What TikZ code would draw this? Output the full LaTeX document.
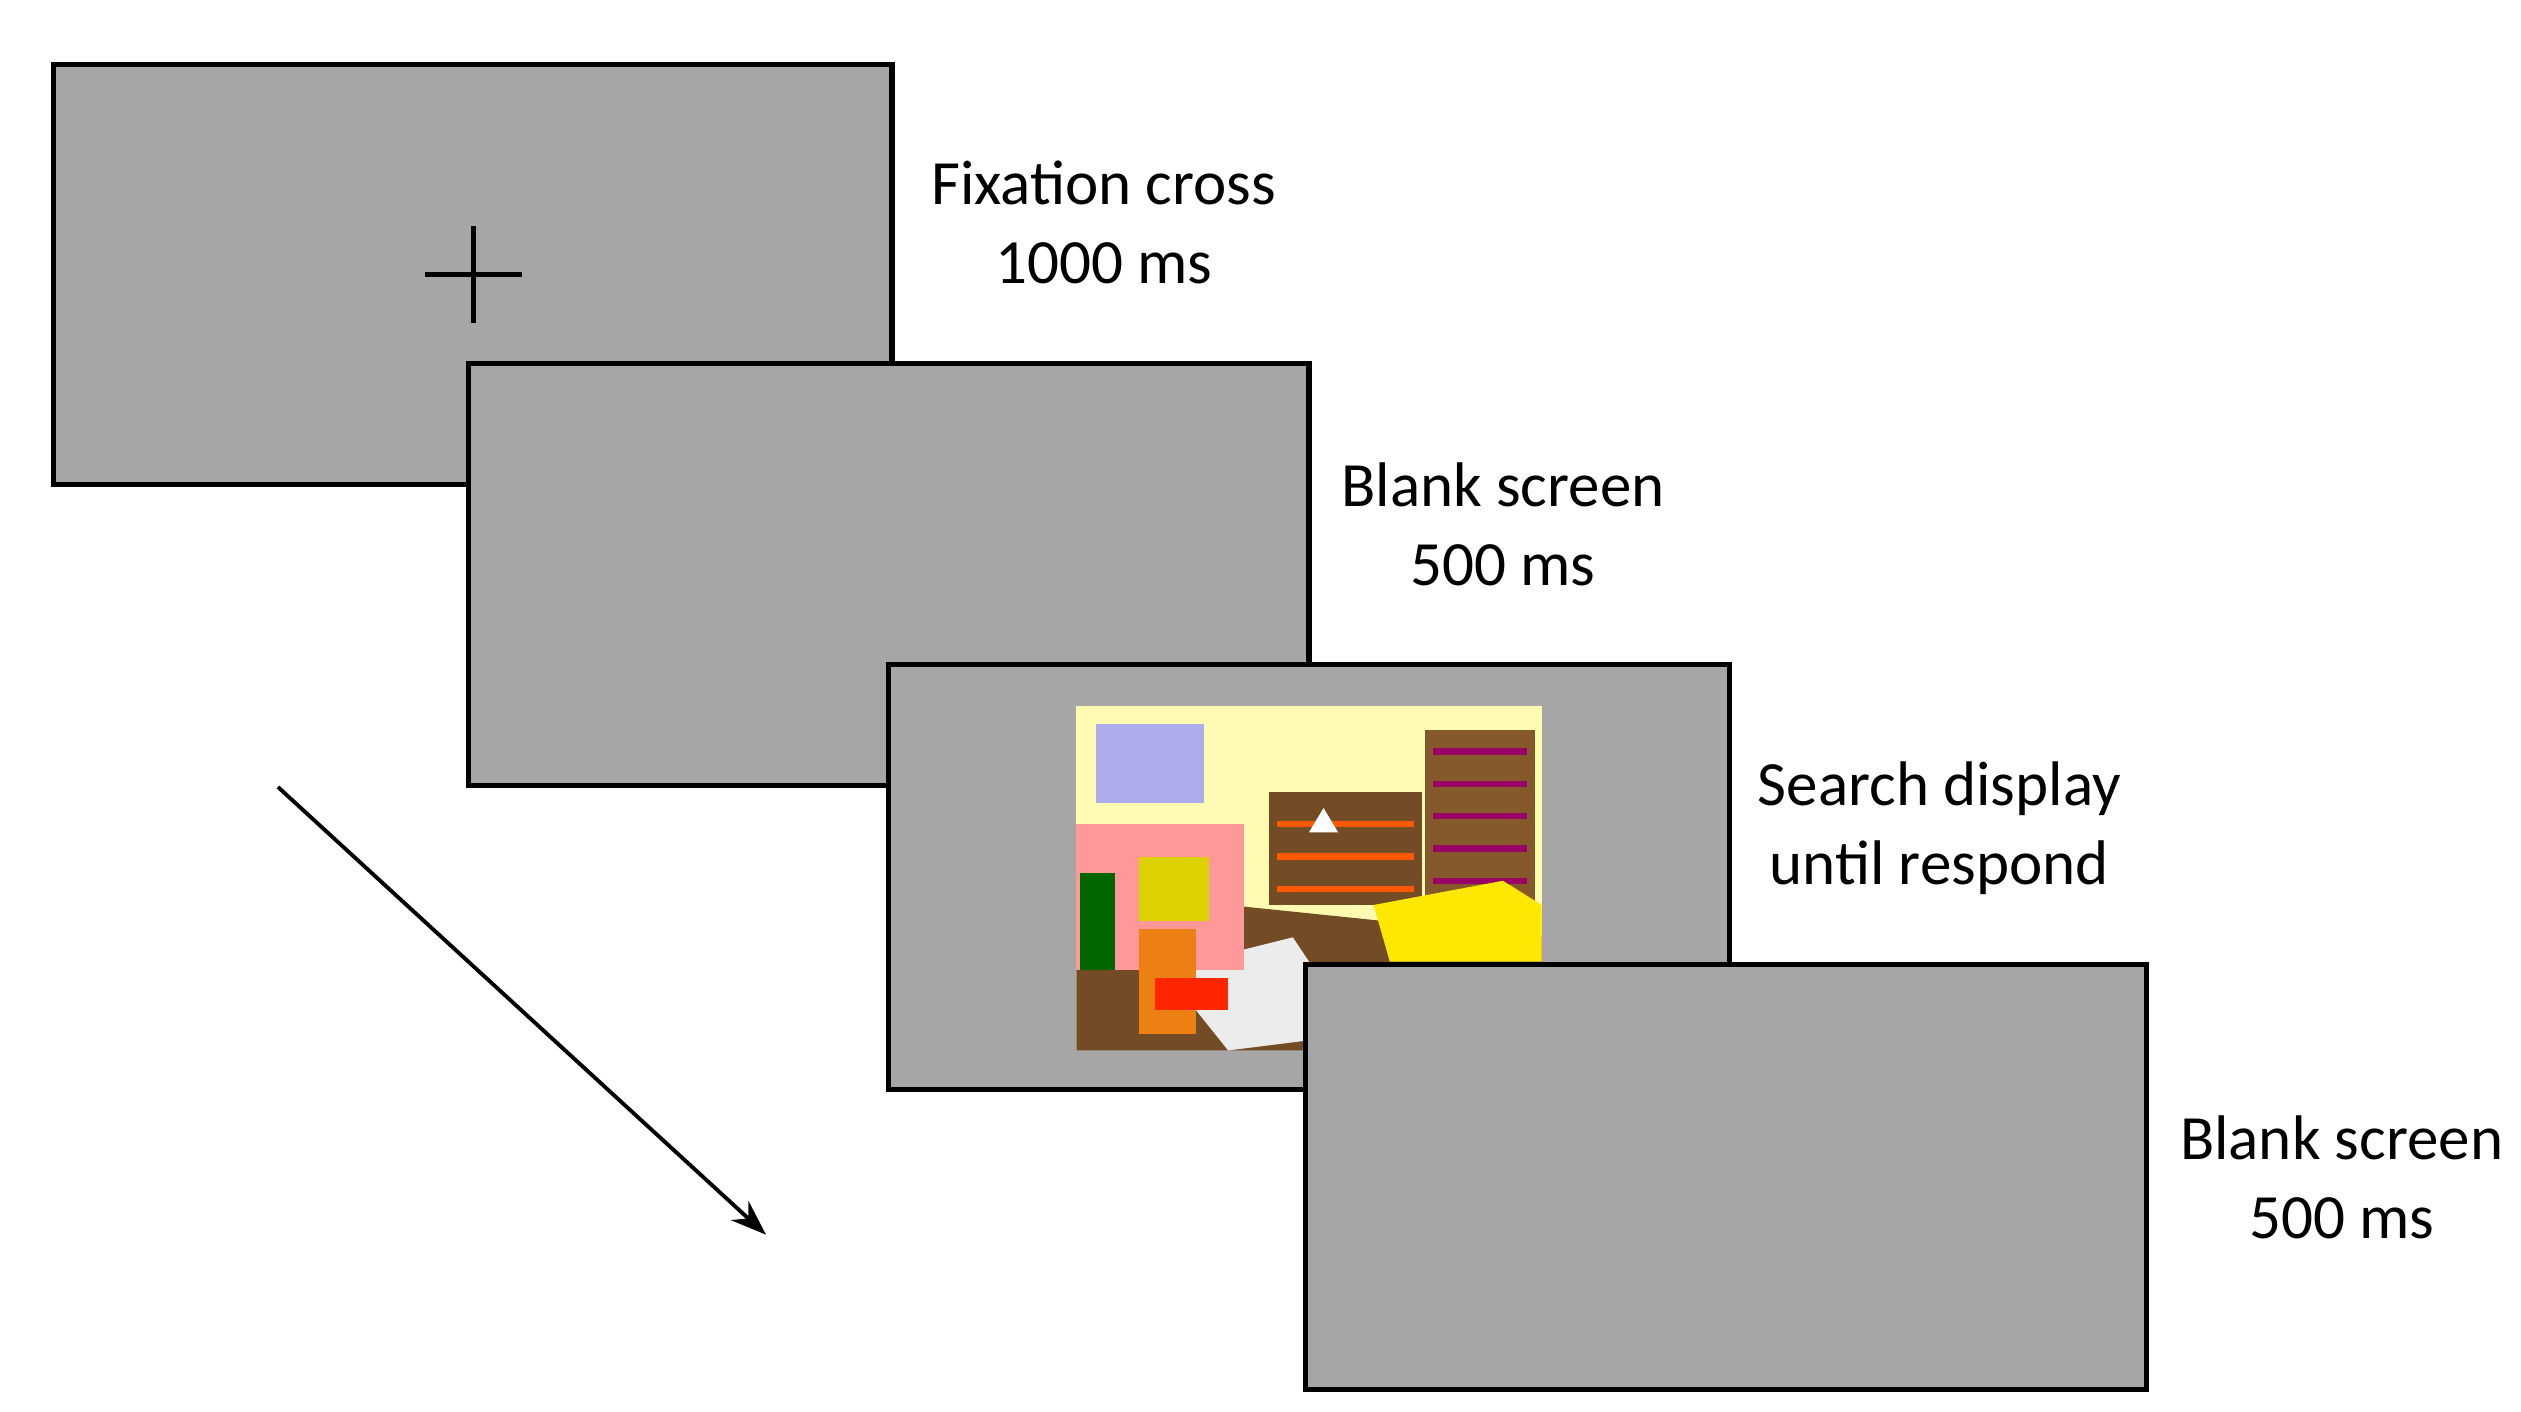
\documentclass[tikz,border=0pt]{standalone}
\usepackage{fontspec}
\setmainfont{Carlito}
\usetikzlibrary{arrows.meta}
\begin{document}
\begin{tikzpicture}[x=0.5pt,y=-0.5pt,
  screen/.style={draw=black,line width=1.6pt,fill=gray!70},
  lbl/.style={font=\fontsize{19.5}{24.5}\selectfont,align=center}]
\useasboundingbox (0,0) rectangle (1560,873.7);
\node[screen,minimum width=259.5pt,minimum height=130pt,inner sep=0] (s1) at (292.5,170) {};
\draw[line width=1.4pt] (263,170) -- (323,170) (293,140) -- (293,200);
\node[screen,minimum width=260pt,minimum height=130.5pt,inner sep=0] (s2) at (550,355.5) {};
\node[screen,minimum width=260pt,minimum height=131.5pt,inner sep=0] (s3) at (810,542.5) {};
% scene picture
\begin{scope}
\fill[yellow!30!white] (666,437) rectangle (954,650);
\fill[brown!60!black] (666,590) -- (760,560) -- (954,580) -- (954,650) -- (666,650) -- cycle;
\fill[white!85!gray] (720,600) -- (800,580) -- (840,640) -- (760,650) -- cycle;
\fill[gray!40!blue!40!white] (678,448) rectangle (745,497);
\fill[pink!80!red] (666,510) rectangle (770,600);
\fill[yellow!70!olive] (705,530) rectangle (748,570);
\fill[green!40!black] (668,540) rectangle (690,600);
\fill[brown!70!black] (882,452) rectangle (950,560);
\fill[brown!60!black] (785,490) rectangle (880,560);
\foreach \y in {465,485,505,525,545}{\draw[red!60!blue,line width=2pt] (887,\y) -- (945,\y);}
\foreach \y in {510,530,550}{\draw[orange!70!red,line width=2pt] (790,\y) -- (875,\y);}
\fill[white] (810,515) -- (828,515) -- (819,500) -- cycle;
\fill[yellow!90!orange] (850,560) -- (930,545) -- (954,560) -- (954,595) -- (860,595) -- cycle;
\fill[orange!70!brown] (705,575) rectangle (740,640);
\fill[red!70!orange] (715,605) rectangle (760,625);
\end{scope}
\node[screen,minimum width=260pt,minimum height=131.5pt,inner sep=0] (s4) at (1068,728.5) {};
\node[lbl] (t1) at (683,137.5) {Fixation cross\\1000 ms};
\node[lbl] (t2) at (930,324.5) {Blank screen\\500 ms};
\node[lbl] (t3) at (1200,512.5) {Search display\\until respond};
\node[lbl] (t4) at (1449,728.5) {Blank screen\\500 ms};
\coordinate (a1) at (172,487);
\coordinate (a2) at (474,764);
\draw[line width=1.2pt,-{Stealth[length=11pt,width=8pt]}] (a1) -- (a2);
\end{tikzpicture}
\end{document}
